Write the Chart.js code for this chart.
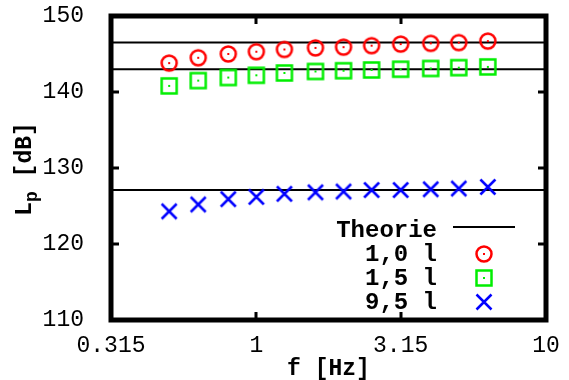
<!DOCTYPE html>
<html>
<head>
<meta charset="utf-8">
<script src="https://cdn.jsdelivr.net/npm/chart.js@4"></script>
<style>
  html, body { margin: 0; padding: 0; background: #fff; }
  #wrap { width: 569px; height: 380px; }
</style>
</head>
<body>
<div id="wrap"><canvas id="chart" width="569" height="380"></canvas></div>
<script>
// third-octave frequencies [Hz]
const freqs = [0.5, 0.63, 0.8, 1, 1.25, 1.6, 2, 2.5, 3.15, 4, 5, 6.3];
// measured Lp [dB]
const lp10 = [143.8, 144.5, 145.0, 145.3, 145.6, 145.8, 145.9, 146.1, 146.3, 146.4, 146.5, 146.7];
const lp15 = [140.8, 141.5, 141.9, 142.2, 142.5, 142.7, 142.8, 142.9, 143.0, 143.1, 143.2, 143.3];
const lp95 = [124.3, 125.2, 125.9, 126.2, 126.6, 126.8, 126.9, 127.1, 127.1, 127.2, 127.3, 127.5];
// theory levels [dB]
const theory = [146.5, 143.0, 127.1];
const seriesLabels = ['1,0 l', '1,5 l', '9,5 l'];
const xTicks = [0.315, 1, 3.15, 10];
const yTicks = [110, 120, 130, 140, 150];

const xMin = 0.315, xMax = 10;

function makeSymbol(kind, color) {
    const c = document.createElement('canvas');
    c.width = 20; c.height = 20;
    const g = c.getContext('2d');
    g.strokeStyle = color;
    g.fillStyle = color;
    g.lineWidth = 2.5;
    if (kind === 'circle') {
        g.beginPath();
        g.arc(10, 10, 7.5, 0, Math.PI * 2);
        g.stroke();
        g.fillRect(9, 9, 2, 2);
    } else if (kind === 'square') {
        g.strokeRect(2.5, 2.5, 15, 15);
        g.fillRect(9, 9, 2, 2);
    } else {
        g.beginPath();
        g.moveTo(2.5, 2.5); g.lineTo(17.5, 17.5);
        g.moveTo(17.5, 2.5); g.lineTo(2.5, 17.5);
        g.stroke();
    }
    return c;
}

const symbols = [
    makeSymbol('circle', '#ff0000'),
    makeSymbol('square', '#00ee00'),
    makeSymbol('cross', '#0000ff')
];

const datasets = [];
theory.forEach((level, i) => {
    datasets.push({
        label: i === 0 ? 'Theorie' : '',
        data: [{ x: xMin, y: level }, { x: xMax, y: level }],
        showLine: true,
        borderColor: '#000',
        borderWidth: 2,
        pointRadius: 0,
        order: 2
    });
});
[lp10, lp15, lp95].forEach((vals, i) => {
    datasets.push({
        label: seriesLabels[i],
        data: freqs.map((f, k) => ({ x: f, y: vals[k] })),
        showLine: false,
        pointStyle: symbols[i],
        pointRadius: 8,
        order: 1
    });
});

const frame = {
    id: 'frame',
    afterDatasetsDraw(chart) {
        const { ctx, chartArea: a, scales } = chart;
        ctx.save();
        ctx.strokeStyle = '#000';
        // inward tick marks
        ctx.lineWidth = 3;
        ctx.beginPath();
        xTicks.slice(1, -1).forEach(v => {
            const px = Math.round(scales.x.getPixelForValue(v));
            ctx.moveTo(px, a.bottom); ctx.lineTo(px, a.bottom - 8);
            ctx.moveTo(px, a.top); ctx.lineTo(px, a.top + 8);
        });
        yTicks.slice(1, -1).forEach(v => {
            const py = Math.round(scales.y.getPixelForValue(v));
            ctx.moveTo(a.left, py); ctx.lineTo(a.left + 8, py);
            ctx.moveTo(a.right, py); ctx.lineTo(a.right - 8, py);
        });
        ctx.stroke();
        ctx.lineWidth = 5;
        ctx.strokeRect(a.left, a.top, a.right - a.left, a.bottom - a.top);

        // legend
        const rows = chart.data.datasets.filter(d => d.label);
        ctx.font = 'bold 24px "Liberation Mono", monospace';
        ctx.fillStyle = '#000';
        ctx.textAlign = 'right';
        ctx.textBaseline = 'middle';
        rows.forEach((d, i) => {
            const y = a.bottom - 89 + i * 24;
            ctx.fillText(d.label, a.right - 109, y);
            const sx = a.right - 62;
            if (d.pointStyle instanceof HTMLCanvasElement) {
                ctx.drawImage(d.pointStyle, sx - 10, y - 11);
            } else {
                ctx.lineWidth = 2;
                ctx.beginPath();
                ctx.moveTo(a.right - 93, y - 4);
                ctx.lineTo(a.right - 31, y - 4);
                ctx.stroke();
            }
        });

        // axis titles
        ctx.textAlign = 'center';
        ctx.font = 'bold 23px "Liberation Mono", monospace';
        ctx.fillText('f [Hz]', (a.left + a.right) / 2, 369);

        ctx.translate(25, (a.top + a.bottom) / 2 + 1);
        ctx.rotate(-Math.PI / 2);
        ctx.textAlign = 'left';
        const big = 'bold 23px "Liberation Mono", monospace';
        const small = 'bold 18px "Liberation Mono", monospace';
        ctx.font = big;
        const wL = ctx.measureText('L').width;
        const wRest = ctx.measureText(' [dB]').width;
        ctx.font = small;
        const wP = ctx.measureText('p').width;
        let x0 = -(wL + wP + wRest) / 2;
        ctx.font = big;
        ctx.fillText('L', x0, 0);
        ctx.font = small;
        ctx.fillText('p', x0 + wL, 7);
        ctx.font = big;
        ctx.fillText(' [dB]', x0 + wL + wP, 0);
        ctx.restore();
    }
};

new Chart(document.getElementById('chart'), {
    type: 'scatter',
    data: { datasets: datasets },
    options: {
        responsive: false,
        animation: false,
        events: [],
        layout: { padding: { left: 0, right: 23, top: 16, bottom: 0 } },
        plugins: {
            legend: { display: false },
            tooltip: { enabled: false }
        },
        scales: {
            x: {
                type: 'logarithmic',
                bounds: 'data',
                min: xMin,
                max: xMax,
                afterBuildTicks: s => {
                    s.ticks = xTicks.map(v => ({ value: v }));
                    s.min = xMin;
                    s.max = xMax;
                },
                afterFit: s => { s.height = 60; s.paddingLeft = 0; s.paddingRight = 0; },
                grid: { display: false },
                border: { display: false },
                ticks: {
                    autoSkip: false,
                    maxRotation: 0,
                    padding: 4,
                    color: '#000',
                    font: { family: '"Liberation Mono", monospace', size: 23 },
                    callback: v => String(v)
                }
            },
            y: {
                min: 110,
                max: 150,
                afterBuildTicks: s => { s.ticks = yTicks.map(v => ({ value: v })); },
                afterFit: s => { s.width = 111; s.paddingTop = 0; s.paddingBottom = 0; },
                grid: { display: false },
                border: { display: false },
                ticks: {
                    padding: 19,
                    color: '#000',
                    font: { family: '"Liberation Mono", monospace', size: 23 },
                    callback: v => String(v)
                }
            }
        }
    },
    plugins: [frame]
});
</script>
</body>
</html>
